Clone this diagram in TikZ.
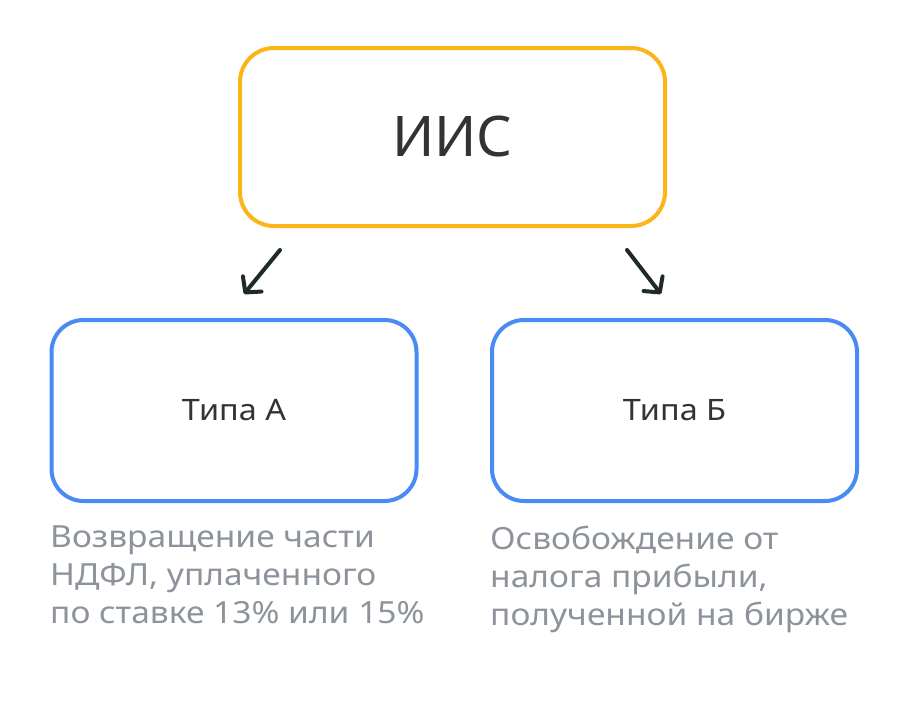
\documentclass[tikz,border=0pt]{standalone}
\usepackage{fontspec}
\setmainfont{Noto Sans}
\newfontfamily\widesans[FakeStretch=1.1]{Noto Sans}
\usetikzlibrary{arrows.meta, positioning}
\definecolor{iisorange}{HTML}{FBB41A}
\definecolor{typeblue}{HTML}{4A8AF4}
\definecolor{arrowdark}{HTML}{1E2B28}
\definecolor{labeldark}{HTML}{333333}
\definecolor{notegray}{HTML}{8D939B}
\tikzset{%
  mainbox/.style = {rectangle, draw=iisorange, line width=4pt, rounded corners=34pt,
                    minimum width=425pt, minimum height=178pt, text=labeldark,
                    font=\fontsize{56}{60}\selectfont},
  typebox/.style = {rectangle, draw=typeblue, line width=4pt, rounded corners=32pt,
                    minimum width=365pt, minimum height=181pt, text=labeldark,
                    font=\widesans\fontsize{29.5}{34}\selectfont},
  note/.style    = {align=left, inner sep=0pt, text=notegray,
                    font=\widesans\fontsize{30.5}{38}\selectfont},
  arr/.style     = {arrowdark, line width=4pt, line cap=round,
                    -{Straight Barb[length=11pt, width=24pt, line cap=round, line join=round]}}
}

\begin{document}
\begin{tikzpicture}[x=1pt, y=-1pt]
    \useasboundingbox (0,0) rectangle (909,720);

    \node (iis)    [mainbox] at (452.5,137)   {ИИС};
    \node (typea)  [typebox] at (234,410.5)   {Типа А};
    \node (typeb)  [typebox] at (674.5,410.5) {Типа Б};

    \node (notea)  [note, anchor=north west] at (50,526)
          {Возвращение части\\НДФЛ, уплаченного\\по ставке 13\% или 15\%};
    \node (noteb)  [note, anchor=north west] at (490,526)
          {Освобождение от\\налога прибыли,\\полученной на бирже};

    \coordinate (la) at (280,250);
    \coordinate (lb) at (244,294);
    \coordinate (ra) at (627,250);
    \coordinate (rb) at (661,294);

    \draw[arr] (la) -- (lb);
    \draw[arr] (ra) -- (rb);
\end{tikzpicture}
\end{document}
